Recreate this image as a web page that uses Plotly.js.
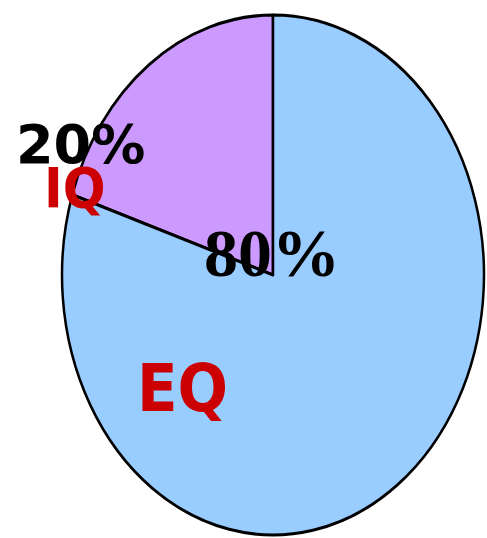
<!DOCTYPE html>
<html>
<head>
<meta charset="utf-8">
<script src="https://cdn.plot.ly/plotly-3.0.1.min.js"></script>
<style>
html,body{margin:0;padding:0;background:#fff;}
#chart{width:487px;height:538px;}
#chart .pielayer{transform-origin:273px 275px;transform:scaleY(1.232);}
</style>
</head>
<body>
<div id="chart"></div>
<script>
const labels = ["IQ", "EQ"];
const values = [20, 80];
const colors = ["#CC99FF", "#99CCFF"];

const total = values.reduce((a, b) => a + b, 0);
const pct = values.map(v => Math.round(v / total * 100) + "%");

const trace = {
  type: "pie",
  labels: labels,
  values: values,
  sort: false,
  direction: "clockwise",
  rotation: -360 * values[0] / total,
  textinfo: "none",
  hoverinfo: "label+percent",
  marker: {colors: colors, line: {color: "#000000", width: 2.5}},
  domain: {x: [62/487, 484/487], y: [1 - (275 + 211)/538, 1 - (275 - 211)/538]},
  showlegend: false
};

const condensed = "'Liberation Sans Narrow', 'DejaVu Sans Condensed', 'Arial Narrow', 'Liberation Sans', sans-serif";
const annotations = [
  {text: pct[0], x: 80/487, y: 1 - 145/538, font: {family: "DejaVu Sans", size: 54, color: "#000", weight: "bold"}},
  {text: labels[0], x: 75/487, y: 1 - 187/538, font: {family: condensed, size: 56, color: "#CC0000", weight: "bold"}},
  {text: pct[1], x: 272/487, y: 1 - 253/538, font: {family: "Liberation Serif", size: 68, color: "#000", weight: "bold"}},
  {text: labels[1], x: 182/487, y: 1 - 388/538, font: {family: condensed, size: 66, color: "#CC0000", weight: "bold"}}
].map(a => Object.assign({xref: "paper", yref: "paper", xanchor: "center", yanchor: "middle", showarrow: false}, a));

const layout = {
  width: 487, height: 538,
  margin: {l: 0, r: 0, t: 0, b: 0},
  paper_bgcolor: "#ffffff",
  plot_bgcolor: "#ffffff",
  annotations: annotations
};

Plotly.newPlot("chart", [trace], layout, {displayModeBar: false, staticPlot: true});
</script>
</body>
</html>
